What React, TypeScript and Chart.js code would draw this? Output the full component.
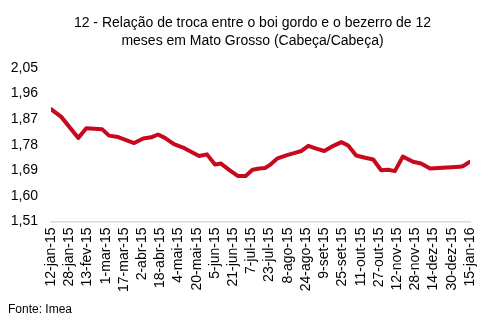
import React, { useEffect, useRef } from "react";
import { Chart, registerables } from "chart.js";

Chart.register(...registerables);

const titleLines = [
  "12 - Relação de troca entre o boi gordo e o bezerro de 12",
  "meses em Mato Grosso (Cabeça/Cabeça)",
];
const sourceText = "Fonte: Imea";

// days since 12-jan-15
const days = [
  0, 9, 24, 31, 45, 51, 59, 73, 81, 88, 94, 100, 108, 116, 130, 137, 144, 149,
  157, 164, 171, 177, 183, 188, 192, 199, 208, 215, 220, 226, 233, 240, 248,
  255, 261, 268, 276, 283, 290, 296, 302, 309, 318, 325, 333, 359, 362, 368,
];
const ratio = [
  1.905, 1.878, 1.804, 1.838, 1.834, 1.812, 1.807, 1.786, 1.802, 1.806, 1.816,
  1.804, 1.782, 1.77, 1.74, 1.746, 1.71, 1.714, 1.69, 1.67, 1.67, 1.692, 1.696,
  1.698, 1.708, 1.732, 1.744, 1.752, 1.758, 1.776, 1.766, 1.758, 1.776, 1.789,
  1.777, 1.742, 1.734, 1.728, 1.69, 1.692, 1.687, 1.738, 1.72, 1.714, 1.696,
  1.702, 1.705, 1.72,
];

const xTickLabels = [
  "12-jan-15", "28-jan-15", "13-fev-15", "1-mar-15", "17-mar-15", "2-abr-15",
  "18-abr-15", "4-mai-15", "20-mai-15", "5-jun-15", "21-jun-15", "7-jul-15",
  "23-jul-15", "8-ago-15", "24-ago-15", "9-set-15", "25-set-15", "11-out-15",
  "27-out-15", "12-nov-15", "28-nov-15", "14-dez-15", "30-dez-15", "15-jan-16",
];
const xTickStepDays = 16;
const yTicks = [1.51, 1.6, 1.69, 1.78, 1.87, 1.96, 2.05];

const FONT = "'Liberation Sans', Arial, Helvetica, sans-serif";

export default function App() {
  const ref = useRef<HTMLCanvasElement>(null);

  useEffect(() => {
    if (!ref.current) return;
    const chart = new Chart(ref.current, {
      type: "line",
      data: {
        datasets: [
          {
            data: days.map((d, i) => ({ x: d, y: ratio[i] })),
            borderColor: "#c8081c",
            borderWidth: 4,
            borderJoinStyle: "round",
            borderCapStyle: "round",
            pointRadius: 0,
            tension: 0,
            fill: false,
          },
        ],
      },
      options: {
        animation: false,
        responsive: true,
        maintainAspectRatio: false,
        layout: { padding: { top: 68, left: 8, right: 24, bottom: 30 } },
        plugins: {
          legend: { display: false },
          tooltip: { enabled: false },
          title: { display: false },
        },
        scales: {
          x: {
            type: "linear",
            min: 0,
            max: (xTickLabels.length - 1) * xTickStepDays,
            afterBuildTicks: (scale: any) => {
              scale.ticks = xTickLabels.map((_, i) => ({ value: i * xTickStepDays }));
            },
            grid: { display: false, drawTicks: false },
            border: { display: true, color: "#d9d9d9", width: 1.5 },
            ticks: {
              autoSkip: false,
              maxRotation: 90,
              minRotation: 90,
              padding: 6,
              color: "#000",
              font: { family: FONT, size: 14 },
              callback: (_v: any, i: number) => xTickLabels[i],
            },
          },
          y: {
            min: yTicks[0],
            max: yTicks[yTicks.length - 1],
            afterBuildTicks: (scale: any) => {
              scale.ticks = yTicks.map((v) => ({ value: v }));
            },
            afterFit: (scale: any) => {
              scale.width = 43;
            },
            grid: { display: false, drawTicks: false },
            border: { display: false },
            ticks: {
              padding: 13,
              color: "#000",
              font: { family: FONT, size: 14 },
              callback: (v: any) => Number(v).toFixed(2).replace(".", ","),
            },
          },
        },
      },
    });
    return () => chart.destroy();
  }, []);

  return (
    <div
      style={{
        position: "fixed",
        left: 0,
        top: 0,
        width: 494,
        height: 328,
        background: "#fff",
        fontFamily: FONT,
        color: "#000",
      }}
    >
      <canvas ref={ref} />
      <div
        style={{
          position: "absolute",
          top: 14,
          left: 11,
          width: 483,
          textAlign: "center",
          fontSize: 14,
          lineHeight: "17.5px",
        }}
      >
        {titleLines.map((t) => (
          <div key={t}>{t}</div>
        ))}
      </div>
      <div
        style={{
          position: "absolute",
          left: 8,
          top: 302,
          fontSize: 12,
          lineHeight: "14px",
        }}
      >
        {sourceText}
      </div>
    </div>
  );
}
